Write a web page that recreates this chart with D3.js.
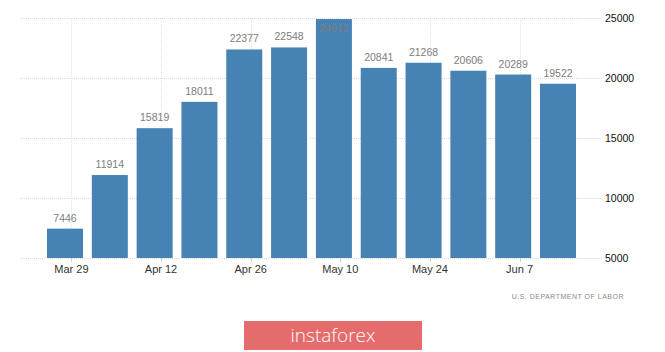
<!DOCTYPE html>
<html>
<head>
<meta charset="utf-8">
<script src="https://cdn.jsdelivr.net/npm/d3@7"></script>
<style>
  html, body { margin: 0; padding: 0; background: #fff; }
  svg { display: block; }
</style>
</head>
<body>
<div id="chart"></div>
<script>
// weekly continuing claims (thousands), week ending dates
const weekDates = ["2020-03-28", "2020-04-04", "2020-04-11", "2020-04-18", "2020-04-25", "2020-05-02",
    "2020-05-09", "2020-05-16", "2020-05-23", "2020-05-30", "2020-06-06", "2020-06-13"];
const claims = [7446, 11914, 15819, 18011, 22377, 22548, 24912, 20841, 21268, 20606, 20289, 19522];
const xTickDates = ["2020-03-29", "2020-04-12", "2020-04-26", "2020-05-10", "2020-05-24", "2020-06-07"];
const yTicks = [5000, 10000, 15000, 20000, 25000];
const sourceLabel = "U.S. DEPARTMENT OF LABOR";
const logoText = "instaforex";

const width = 665, height = 352;
const parse = d3.utcParse("%Y-%m-%d");
const fmtTick = d3.utcFormat("%b %-d");

const svg = d3.select("#chart").append("svg")
    .attr("width", width)
    .attr("height", height);

const x = d3.scaleUtc()
    .domain([parse(weekDates[0]), parse(weekDates[weekDates.length - 1])])
    .range([65, 558]);
const y = d3.scaleLinear().domain([5000, 25000]).range([258, 18]);
const barW = 36;
const gridRight = 577;

// grid
const gridG = svg.append("g");
yTicks.forEach((t) => {
    const yy = Math.round(y(t)) + 0.5;
    gridG.append("line")
        .attr("x1", 20).attr("x2", gridRight)
        .attr("y1", yy).attr("y2", yy)
        .attr("stroke", "#d9d9d9")
        .attr("stroke-dasharray", "1,1");
    gridG.append("line")
        .attr("x1", gridRight).attr("x2", 602)
        .attr("y1", yy).attr("y2", yy)
        .attr("stroke", "#ececec");
});
xTickDates.forEach((d) => {
    const xx = Math.round(x(parse(d))) + 0.5;
    gridG.append("line")
        .attr("x1", xx).attr("x2", xx)
        .attr("y1", 18).attr("y2", 258)
        .attr("stroke", "#e3e3e3")
        .attr("stroke-dasharray", "1,1");
    gridG.append("line")
        .attr("x1", xx).attr("x2", xx)
        .attr("y1", 258).attr("y2", 262)
        .attr("stroke", "#cfcfcf");
});

// bars
svg.append("g").selectAll("rect")
    .data(claims)
    .join("rect")
    .attr("x", (d, i) => x(parse(weekDates[i])) - barW / 2)
    .attr("width", barW)
    .attr("y", (d) => y(d))
    .attr("height", (d) => y(5000) - y(d))
    .attr("fill", "#4682b4");

// value labels
svg.append("g").selectAll("text")
    .data(claims)
    .join("text")
    .attr("x", (d, i) => x(parse(weekDates[i])))
    .attr("y", (d) => Math.max(y(d) - 7, 32))
    .attr("text-anchor", "middle")
    .style("font-family", "'Liberation Sans', Arial, sans-serif")
    .style("font-size", "10.5px")
    .style("fill", "#7d7d7d")
    .text((d) => d);

// y axis labels (right)
svg.append("g").selectAll("text")
    .data(yTicks)
    .join("text")
    .attr("x", 605)
    .attr("y", (d) => y(d))
    .attr("dy", "0.35em")
    .style("font-family", "'Liberation Sans', Arial, sans-serif")
    .style("font-size", "10.5px")
    .style("fill", "#111")
    .text((d) => d);

// x axis labels
svg.append("g").selectAll("text")
    .data(xTickDates)
    .join("text")
    .attr("x", (d) => x(parse(d)))
    .attr("y", 269)
    .attr("dy", "0.35em")
    .attr("text-anchor", "middle")
    .style("font-family", "'Liberation Sans', Arial, sans-serif")
    .style("font-size", "11px")
    .style("fill", "#333")
    .text((d) => fmtTick(parse(d)));

// source
svg.append("text")
    .attr("x", 624)
    .attr("y", 297)
    .attr("dy", "0.35em")
    .attr("text-anchor", "end")
    .style("font-family", "'Liberation Sans', Arial, sans-serif")
    .style("font-size", "7px")
    .style("letter-spacing", "0.5px")
    .style("fill", "#8a8a8a")
    .text(sourceLabel);

// logo
svg.append("rect")
    .attr("x", 244).attr("y", 321)
    .attr("width", 178).attr("height", 29)
    .attr("fill", "#e56c6d");
svg.append("text")
    .attr("x", 333)
    .attr("y", 335)
    .attr("dy", "0.35em")
    .attr("text-anchor", "middle")
    .style("font-family", "'Open Sans', sans-serif")
    .style("font-weight", 300)
    .style("font-size", "19px")
    .style("fill", "#fff")
    .text(logoText);
</script>
</body>
</html>
